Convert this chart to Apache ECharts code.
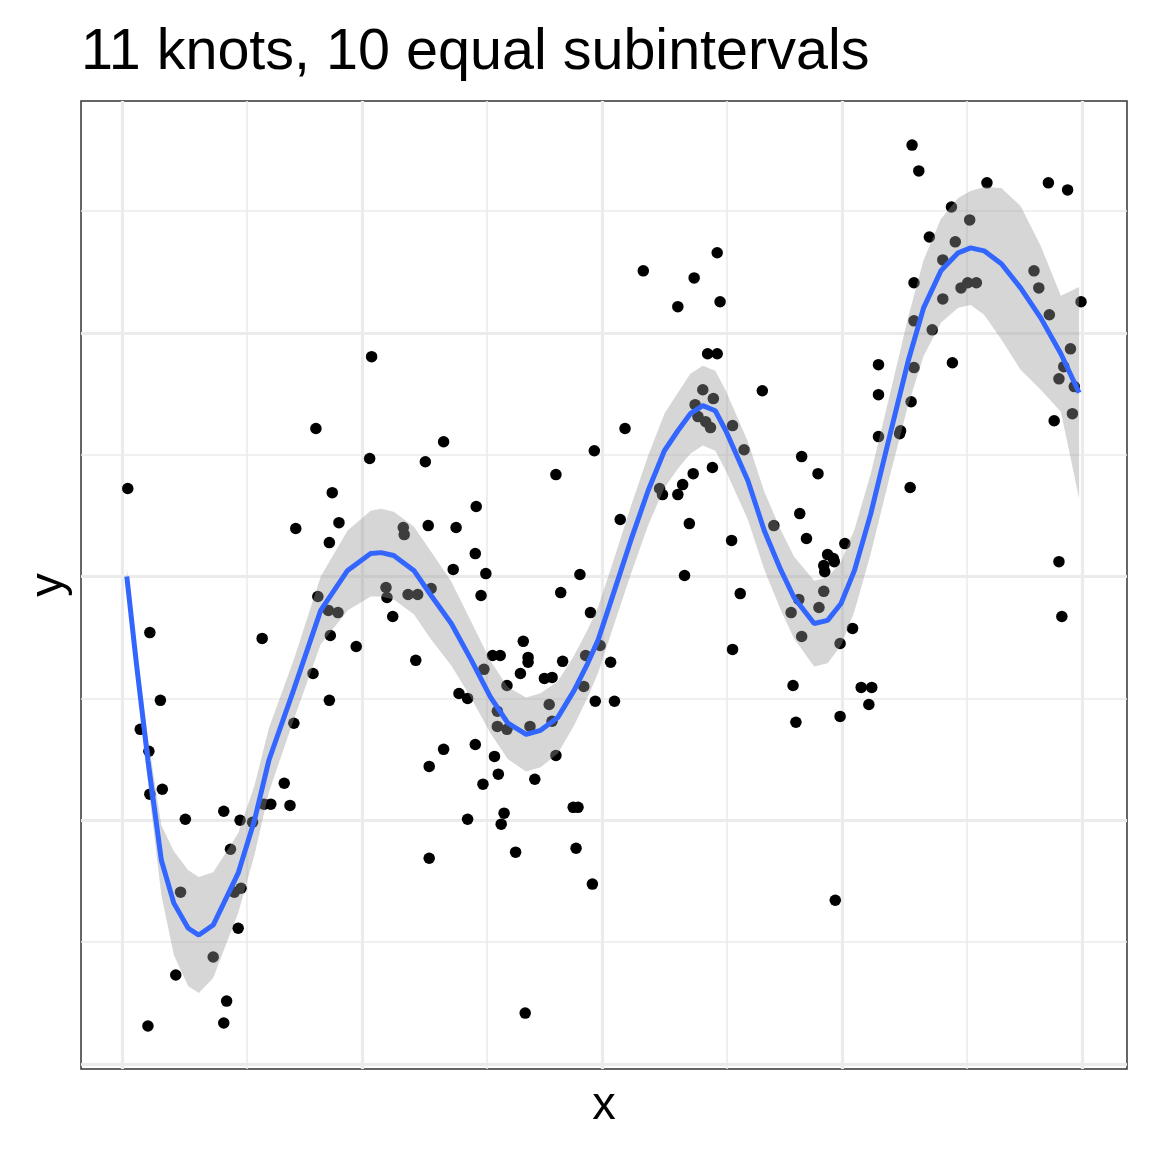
<!DOCTYPE html>
<html><head><meta charset="utf-8">
<script src="https://cdn.jsdelivr.net/npm/echarts@6/dist/echarts.min.js"></script>
<style>html,body{margin:0;padding:0;background:#fff}#c{width:1152px;height:1152px}</style>
</head><body><div id="c"></div>
<script>
// observed points
const pointX = [0.006,0.029,0.146,0.217,0.244,0.306,0.199,0.216,0.040,0.179,0.019,0.028,0.042,0.029,0.169,0.155,0.148,0.175,0.106,0.066,0.123,0.136,0.113,0.061,0.124,0.117,0.121,0.095,0.056,0.109,0.027,0.106,
0.260,0.202,0.258,0.316,0.219,0.181,0.226,0.216,0.293,0.294,0.319,0.204,0.275,0.276,0.298,0.308,0.215,0.225,0.282,0.322,0.320,0.320,
0.335,0.492,0.452,0.369,0.348,0.519,0.368,0.345,0.379,0.477,0.374,0.457,0.488,0.418,0.386,0.394,0.423,0.423,0.498,0.459,0.509,0.483,0.377,0.415,0.440,0.448,0.401,0.481,0.351,0.360,0.493,0.513,0.445,0.391,0.391,0.401,0.425,0.448,0.335,0.368,0.388,0.452,0.392,0.376,0.430,0.470,0.475,0.360,0.398,0.395,0.410,0.473,0.490,0.420,
0.543,0.620,0.596,0.579,0.623,0.610,0.620,0.667,0.605,0.616,0.597,0.600,0.608,0.613,0.636,0.524,0.560,0.563,0.584,0.595,0.579,0.615,0.591,0.648,0.635,0.586,0.644,0.636,0.679,
0.788,0.810,0.708,0.725,0.821,0.706,0.713,0.753,0.735,0.741,0.731,0.732,0.742,0.976,0.979,0.731,0.705,0.697,0.726,0.708,0.761,0.748,0.699,0.770,0.781,0.778,0.702,0.748,0.743,
0.823,0.830,0.901,0.965,0.985,0.864,0.883,0.841,0.868,0.855,0.825,0.874,0.881,0.890,0.855,0.950,0.955,0.999,0.966,0.825,0.844,0.788,0.865,0.825,0.988,0.981,0.976,0.992,0.788,0.822,0.990,0.971,0.811];
const pointY = [0.361,-0.230,-0.254,-0.242,-0.287,-0.344,-0.398,-0.508,-0.508,-0.602,-0.627,-0.717,-0.873,-0.893,-0.848,-0.934,-0.934,-0.939,-0.963,-0.996,-1.000,-1.008,-1.119,-1.295,-1.279,-1.295,-1.443,-1.561,-1.635,-1.742,-1.844,-1.832,
0.902,0.607,0.484,0.471,0.344,0.197,0.221,0.139,0.201,0.172,0.209,-0.082,-0.045,-0.086,-0.074,-0.074,-0.139,-0.148,-0.164,-0.049,-0.779,-1.156,
0.553,0.516,0.418,0.287,0.201,0.234,0.094,0.029,0.012,0.008,-0.078,-0.066,-0.148,-0.266,-0.324,-0.324,-0.332,-0.352,-0.283,-0.348,-0.352,-0.324,-0.381,-0.398,-0.418,-0.414,-0.447,-0.451,-0.480,-0.500,-0.512,-0.512,-0.525,-0.553,-0.615,-0.627,-0.615,-0.594,-0.709,-0.689,-0.738,-0.734,-0.811,-0.852,-0.832,-0.947,-0.947,-0.996,-0.971,-1.016,-1.131,-1.115,-1.262,-1.791,
1.254,1.328,1.225,1.107,1.127,0.914,0.914,0.762,0.766,0.730,0.705,0.656,0.635,0.611,0.619,0.607,0.361,0.336,0.377,0.422,0.336,0.447,0.217,0.520,0.148,0.004,-0.070,-0.299,0.209,
0.574,0.586,0.492,0.422,0.365,0.258,0.156,0.135,0.090,0.074,0.045,0.020,0.061,0.061,-0.164,-0.061,-0.094,-0.148,-0.127,-0.246,-0.213,-0.275,-0.447,-0.455,-0.455,-0.525,-0.598,-0.574,-1.328,
1.770,1.664,1.615,1.615,1.586,1.516,1.463,1.393,1.373,1.299,1.205,1.184,1.205,1.205,1.139,1.254,1.184,1.127,1.074,1.049,1.012,0.869,0.877,0.857,0.934,0.861,0.811,0.779,0.746,0.717,0.668,0.639,0.598];

// fitted spline and its confidence band
const fitX = [0.005,0.015,0.027,0.041,0.054,0.069,0.080,0.095,0.106,0.121,0.138,0.153,0.179,0.207,0.235,0.259,0.270,0.283,0.304,0.322,0.343,0.364,0.384,0.402,0.421,0.436,0.454,0.471,0.485,0.496,0.513,0.530,0.548,0.565,0.579,0.592,0.605,0.618,0.629,0.652,0.669,0.686,0.700,0.721,0.735,0.749,0.763,0.780,0.801,0.819,0.835,0.853,0.871,0.884,0.898,0.916,0.936,0.957,0.978,0.997];
const fitY = [0.000,-0.357,-0.754,-1.164,-1.340,-1.443,-1.471,-1.430,-1.340,-1.217,-1.000,-0.754,-0.463,-0.139,0.025,0.094,0.098,0.086,0.025,-0.078,-0.193,-0.344,-0.496,-0.602,-0.648,-0.631,-0.578,-0.467,-0.357,-0.260,-0.057,0.148,0.352,0.516,0.598,0.668,0.701,0.680,0.598,0.393,0.189,0.029,-0.086,-0.193,-0.180,-0.111,0.025,0.258,0.598,0.885,1.102,1.254,1.328,1.348,1.336,1.283,1.184,1.061,0.914,0.754];
const bandLow = [-0.033,-0.418,-0.844,-1.307,-1.553,-1.681,-1.709,-1.647,-1.533,-1.381,-1.143,-0.885,-0.586,-0.278,-0.139,-0.082,-0.082,-0.094,-0.155,-0.258,-0.365,-0.500,-0.644,-0.750,-0.800,-0.783,-0.726,-0.610,-0.496,-0.395,-0.192,0.009,0.209,0.364,0.442,0.504,0.537,0.516,0.434,0.233,0.029,-0.135,-0.254,-0.369,-0.356,-0.283,-0.143,0.094,0.430,0.705,0.905,1.041,1.103,1.114,1.074,0.972,0.848,0.766,0.676,0.320];
const bandHigh = [0.033,-0.296,-0.664,-1.021,-1.127,-1.205,-1.233,-1.213,-1.147,-1.053,-0.857,-0.623,-0.340,0.000,0.189,0.270,0.278,0.266,0.205,0.102,-0.021,-0.188,-0.348,-0.454,-0.496,-0.479,-0.430,-0.324,-0.218,-0.125,0.078,0.287,0.495,0.668,0.754,0.832,0.865,0.844,0.762,0.553,0.349,0.193,0.082,-0.017,-0.004,0.061,0.193,0.422,0.766,1.065,1.299,1.467,1.553,1.582,1.598,1.594,1.520,1.356,1.152,1.188];

// grid breaks
const xMajorBreaks = [0, 0.25, 0.5, 0.75, 1];
const xMinorBreaks = [0.125, 0.375, 0.625, 0.875];
const yMajorBreaks = [-2, -1, 0, 1];
const yMinorBreaks = [-1.5, -0.5, 0.5, 1.5];

const FONT = 'Liberation Sans, Arial, Helvetica, sans-serif';
const gridLineData = [];
xMinorBreaks.forEach(v => gridLineData.push({xAxis: v, lineStyle: {color: '#ebebeb', width: 1.6, type: 'solid'}}));
yMinorBreaks.forEach(v => gridLineData.push({yAxis: v, lineStyle: {color: '#ebebeb', width: 1.6, type: 'solid'}}));
xMajorBreaks.forEach(v => gridLineData.push({xAxis: v, lineStyle: {color: '#ebebeb', width: 3.2, type: 'solid'}}));
yMajorBreaks.forEach(v => gridLineData.push({yAxis: v, lineStyle: {color: '#ebebeb', width: 3.2, type: 'solid'}}));

const chart = echarts.init(document.getElementById('c'), null, {renderer: 'canvas'});
chart.setOption({
  animation: false,
  backgroundColor: '#fff',
  title: {
    text: '11 knots, 10 equal subintervals',
    left: 81, top: 24, padding: 0,
    textStyle: {fontFamily: FONT, fontSize: 57.5, fontWeight: 'normal', color: '#000'}
  },
  grid: {left: 81, top: 101, width: 1046, height: 968, show: true, borderColor: '#333333', borderWidth: 1.5, backgroundColor: '#fff', containLabel: false},
  xAxis: {
    type: 'value', min: -0.04271, max: 1.04688,
    name: 'x', nameLocation: 'middle', nameGap: 14,
    nameTextStyle: {fontFamily: FONT, fontSize: 47, color: '#000'},
    axisLine: {show: false}, axisTick: {show: false}, axisLabel: {show: false}, splitLine: {show: false}
  },
  yAxis: {
    type: 'value', min: -2.0205, max: 1.9508,
    name: 'y', nameLocation: 'middle', nameGap: 8,
    nameTextStyle: {fontFamily: FONT, fontSize: 47, color: '#000'},
    axisLine: {show: false}, axisTick: {show: false}, axisLabel: {show: false}, splitLine: {show: false}
  },
  series: [
    {
      type: 'line', data: [], z: 1, silent: true,
      markLine: {silent: true, z: 1, symbol: ['none', 'none'], label: {show: false}, emphasis: {disabled: true}, animation: false, data: gridLineData}
    },
    {
      type: 'scatter', z: 2, silent: true,
      data: pointX.map((x, i) => [x, pointY[i]]),
      symbol: 'circle', symbolSize: 11.5,
      itemStyle: {color: '#000', opacity: 1}
    },
    {
      type: 'custom', z: 3, silent: true,
      data: [[fitX[0], fitY[0]]],
      renderItem: function (params, api) {
        const pts = [];
        for (let i = 0; i < fitX.length; i++) pts.push(api.coord([fitX[i], bandHigh[i]]));
        for (let i = fitX.length - 1; i >= 0; i--) pts.push(api.coord([fitX[i], bandLow[i]]));
        return {type: 'polygon', shape: {points: pts}, style: {fill: 'rgba(153,153,153,0.4)', stroke: null}};
      }
    },
    {
      type: 'line', z: 4, silent: true,
      data: fitX.map((x, i) => [x, fitY[i]]),
      showSymbol: false, symbol: 'none', smooth: false,
      lineStyle: {color: '#3366FF', width: 5}
    }
  ]
});
</script>
</body></html>
